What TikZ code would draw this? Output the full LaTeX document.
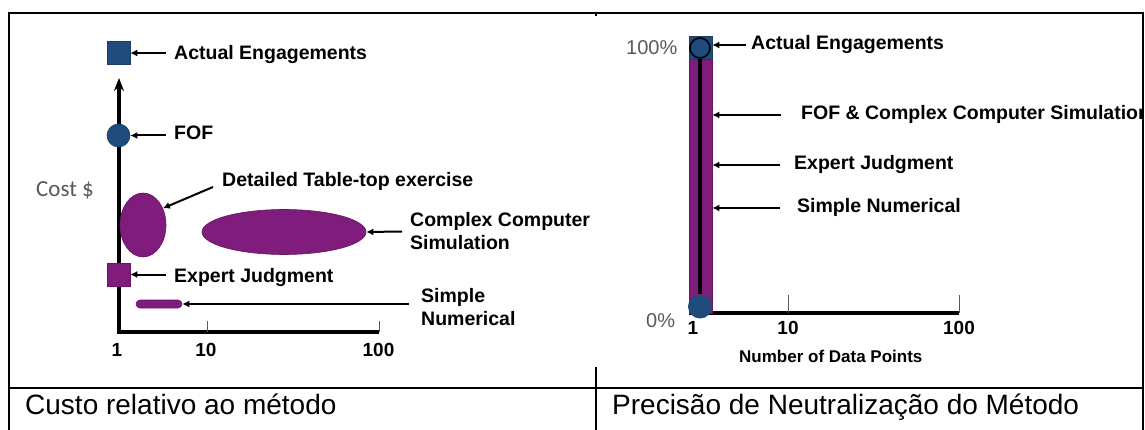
\documentclass[tikz,border=0pt]{standalone}
\usepackage{fontspec}
\setmainfont{Liberation Sans}
\newfontfamily\calibri{Carlito}
\usetikzlibrary{shapes.geometric,arrows.meta}
\definecolor{engblue}{RGB}{31,76,124}
\definecolor{simpurple}{RGB}{127,28,124}
\definecolor{axisgray}{RGB}{89,89,89}
\begin{document}
\begin{tikzpicture}[x=1pt,y=-1pt,
  lbl/.style={inner sep=0pt,anchor=base west,font=\fontsize{19.5}{23}\selectfont\bfseries},
  num/.style={inner sep=0pt,anchor=base,font=\fontsize{19}{23}\selectfont\bfseries},
  pct/.style={inner sep=0pt,anchor=base west,text=axisgray,font=\fontsize{20}{24}\selectfont},
  cell/.style={inner sep=0pt,anchor=base west,font=\fontsize{28}{32}\selectfont},
  pointer/.style={line width=2pt,-{Latex[length=7pt,width=7pt]}},
  axisline/.style={line width=3.5pt},
  tickline/.style={line width=1pt,draw=axisgray},
  tableline/.style={line width=2.5pt},
  bluebox/.style={rectangle,fill=engblue,draw=engblue!80!black,line width=0.6pt,minimum size=23pt,inner sep=0pt},
  purplebox/.style={rectangle,fill=simpurple,draw=simpurple!80!black,line width=0.6pt,minimum size=23pt,inner sep=0pt},
  blob/.style={fill=simpurple,draw=simpurple!80!black,line width=0.6pt,inner sep=0pt}]
\useasboundingbox (0,0) rectangle (1145,430);

% left: cost
\coordinate (orgL) at (119,332);
\coordinate (topL) at (119,78);
\coordinate (endL) at (379,332);
\draw[axisline,{Stealth[length=13pt,width=10pt]}-] (topL) -- (orgL) -- (endL);
\draw[tickline] (207,321) -- (207,332);
\draw[tickline] (379,321) -- (379,332);

\node[bluebox] (actS) at (118.5,53) {};
\node[bluebox,circle] (fofS) at (118.5,135.5) {};
\node[blob,ellipse,minimum width=46pt,minimum height=64pt] (tabS) at (143,225) {};
\node[blob,ellipse,minimum width=164pt,minimum height=45pt] (cplxS) at (284,232) {};
\node[purplebox] (expS) at (118.5,274.5) {};
\node[blob,rectangle,rounded corners=4pt,minimum width=46pt,minimum height=8pt] (simS) at (159,304) {};

\node[lbl] (actL) at (174,60) {Actual Engagements};
\node[lbl] (fofL) at (174,140) {FOF};
\node[lbl] (tabL) at (222,187) {Detailed Table-top exercise};
\node[lbl,anchor=west,align=left] (cplxL) at (410,231.5) {Complex Computer\\Simulation};
\node[lbl] (expL) at (174,283) {Expert Judgment};
\node[lbl,anchor=west,align=left] (simL) at (421,307) {Simple\\Numerical};
\node[inner sep=0pt,anchor=base west,text=axisgray,font=\calibri\fontsize{23}{27}\selectfont] (costL) at (36,197) {Cost \$};
\node[num] (n1L) at (117,356) {1};
\node[num] (n10L) at (206,356) {10};
\node[num] (n100L) at (378.5,356) {100};

\draw[pointer] ([xshift=-8pt]actL.west |- actS.east) -- (actS.east);
\draw[pointer] ([xshift=-8pt]fofL.west |- fofS.east) -- (fofS.east);
\draw[pointer] ([xshift=-9pt]tabL.base west) -- (tabS.40);
\draw[pointer] ([xshift=-8pt]cplxL.west) -- (cplxS.east);
\draw[pointer] ([xshift=-8pt]expL.west |- expS.east) -- (expS.east);
\draw[pointer] ([xshift=-12pt]simL.west |- simS.east) -- (simS.east);

% right: accuracy
\coordinate (orgR) at (689,313);
\coordinate (endR) at (959,313);
\draw[axisline] (orgR) -- (endR);
\draw[tickline] (788,295) -- (788,313);
\draw[tickline] (959,295) -- (959,313);

\node[blob,rectangle,minimum width=23pt,minimum height=277pt] (barR) at (700.5,174.5) {};
\node[bluebox] (capR) at (700.5,47.5) {};
\node[circle,fill=engblue,draw=black,line width=1.6pt,minimum size=20pt,inner sep=0pt] (topR) at (700,48) {};
\node[circle,fill=engblue,minimum size=24pt,inner sep=0pt] (botR) at (700,306.5) {};
\draw[line width=3.5pt] (topR.south) -- (botR.north);

\node[lbl] (actR) at (751,50) {Actual Engagements};
\begin{scope}
\clip (0,0) rectangle (1142,430);
\node[lbl] (fofR) at (801,120) {FOF \& Complex Computer Simulation};
\end{scope}
\node[lbl] (expR) at (794,170) {Expert Judgment};
\node[lbl] (simR) at (797,213) {Simple Numerical};
\node[pct] (p100) at (626,55) {100\%};
\node[pct] (p0) at (646,327) {0\%};
\node[num] (n1R) at (693,334) {1};
\node[num] (n10R) at (788,334) {10};
\node[num] (n100R) at (959,334) {100};
\node[lbl,font=\fontsize{17}{20}\selectfont\bfseries] (xlabR) at (739,362) {Number of Data Points};

\draw[pointer] ([xshift=-5pt]actR.west) -- (actR.west -| barR.east);
\draw[pointer] ([xshift=-20pt]fofR.west) -- (fofR.west -| barR.east);
\draw[pointer] ([xshift=-14pt]expR.west) -- (expR.west -| barR.east);
\draw[pointer] ([xshift=-17pt]simR.west) -- (simR.west -| barR.east);

% table
\draw[tableline] (9,430) -- (9,13) -- (1143,13) -- (1143,430);
\draw[tableline] (9,388) -- (1143,388);
\draw[tableline] (596,13) -- (596,16);
\draw[tableline] (596,367) -- (596,430);
\node[cell] (cellL) at (25,414) {Custo relativo ao método};
\node[cell] (cellR) at (612,414) {Precisão de Neutralização do Método};
\end{tikzpicture}
\end{document}
